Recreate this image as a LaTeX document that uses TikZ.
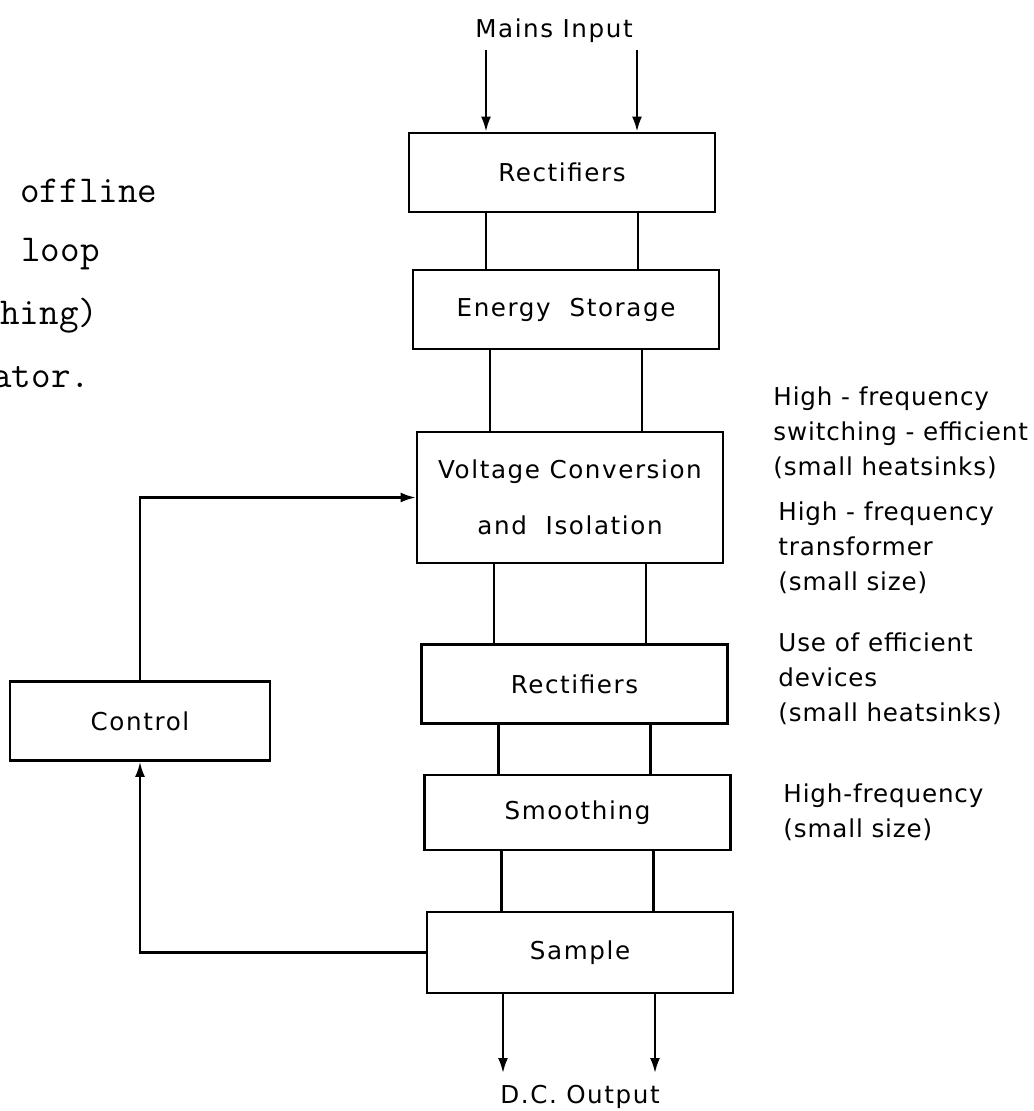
\documentclass[tikz,border=0pt]{standalone}
\usepackage{fontspec}
\usepackage{tikz}
\usetikzlibrary{arrows.meta, positioning}

\newfontfamily\blkfont[LetterSpace=6.5]{DejaVu Sans}
\newfontfamily\notefont[LetterSpace=3.5]{DejaVu Sans}

\begin{document}
\begin{tikzpicture}[x=0.5pt, y=-0.5pt, node distance=70pt,
  blk/.style={draw, rectangle, line width=1.4pt, minimum width=153pt, minimum height=39.5pt, align=center, font=\blkfont\fontsize{12.3pt}{28pt}\selectfont},
  lbl/.style={inner sep=0pt, font=\blkfont\fontsize{12.3pt}{17.5pt}\selectfont},
  note/.style={anchor=west, align=left, inner sep=0pt, font=\notefont\fontsize{12.3pt}{17.5pt}\selectfont},
  typ/.style={anchor=base west, inner sep=0pt, font=\ttfamily\fontsize{19pt}{22pt}\selectfont},
  wire/.style={draw, line width=1.1pt},
  tip/.style={-{Latex[length=7.5pt, width=5pt]}}]

\path [use as bounding box, clip] (0,0) rectangle (1033,1111);

% text cut off at the page edge
\node [typ] (t1) at (20,203) {offline};
\node [typ] (t2) at (21,262) {loop};
\node [typ] (t3) at (0,325)  {hing)};
\node [typ] (t4) at (-8,388) {ator.};

\node [blk                                              ] (r1) at (562,172.5) {Rectifiers};
\node [blk, below of=r1, xshift=2pt   , yshift=1.5pt    ] (es) {Energy\ \ Storage};
\node [blk, below of=es, xshift=2pt   , yshift=-24pt   , minimum height=65.5pt] (vc) {Voltage Conversion\\and\ \ Isolation};
\node [blk, below of=vc, xshift=2.25pt, yshift=-23.25pt ] (r2) {Rectifiers};
\node [blk, below of=r2, xshift=1.5pt , yshift=5.75pt  , minimum height=37.5pt] (sm) {Smoothing};
\node [blk, below of=sm, xshift=1.25pt                 , minimum height=40.5pt] (sa) {Sample};
\node [blk, minimum width=130pt                         ] (ctrl) at (140,721) {Control};

\node [lbl] (mains) at (554,31)   {Mains Input};
\node [lbl] (dc)    at (580,1097) {D.C. Output};

\coordinate (in1)  at (486,50);
\coordinate (in2)  at (637,50);
\coordinate (out1) at (503,1073);
\coordinate (out2) at (655,1073);

\path [wire, tip] (in1) -- (in1 |- r1.north);
\path [wire, tip] (in2) -- (in2 |- r1.north);

\path [wire] ([xshift=-38pt]r1.south) -- ([xshift=-38pt]r1.south |- es.north);
\path [wire] ([xshift=38pt]r1.south)  -- ([xshift=38pt]r1.south  |- es.north);
\path [wire] ([xshift=-38pt]es.south) -- ([xshift=-38pt]es.south |- vc.north);
\path [wire] ([xshift=38pt]es.south)  -- ([xshift=38pt]es.south  |- vc.north);
\path [wire] ([xshift=-38pt]vc.south) -- ([xshift=-38pt]vc.south |- r2.north);
\path [wire] ([xshift=38pt]vc.south)  -- ([xshift=38pt]vc.south  |- r2.north);
\path [wire] ([xshift=-38pt]r2.south) -- ([xshift=-38pt]r2.south |- sm.north);
\path [wire] ([xshift=38pt]r2.south)  -- ([xshift=38pt]r2.south  |- sm.north);
\path [wire] ([xshift=-38pt]sm.south) -- ([xshift=-38pt]sm.south |- sa.north);
\path [wire] ([xshift=38pt]sm.south)  -- ([xshift=38pt]sm.south  |- sa.north);

\path [wire, tip] (sa.south -| out1) -- (out1);
\path [wire, tip] (sa.south -| out2) -- (out2);

% feedback loop
\path [wire, tip] (sa.west) -| (ctrl.south);
\path [wire, tip] (ctrl.north) |- (vc.west);

\node [note] (n1) at (773,433)   {High - frequency\\switching - efficient\\(small heatsinks)};
\node [note] (n2) at (778,547.5) {High - frequency\\transformer\\(small size)};
\node [note] (n3) at (778,678.5) {Use of efficient\\devices\\(small heatsinks)};
\node [note] (n4) at (783,812)   {High-frequency\\(small size)};

\end{tikzpicture}
\end{document}
